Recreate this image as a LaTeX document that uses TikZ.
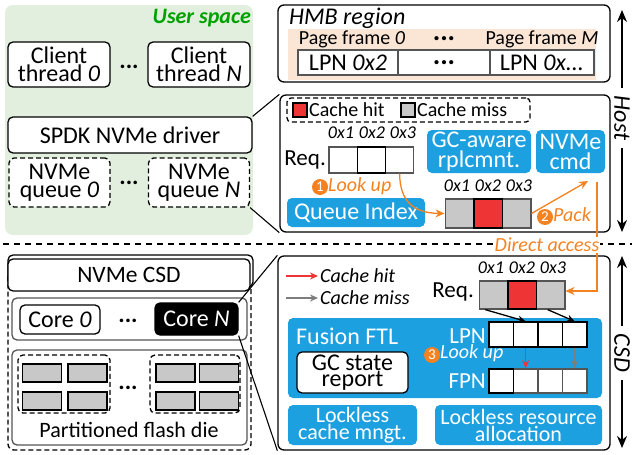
\documentclass[tikz,border=0pt]{standalone}
\usepackage{fontspec}
\setmainfont{Carlito}
\usetikzlibrary{arrows.meta,positioning,calc}

\definecolor{userbg}{RGB}{226,239,222}
\definecolor{usergreen}{RGB}{0,160,0}
\definecolor{hmbpeach}{RGB}{251,229,213}
\definecolor{ftlblue}{RGB}{29,160,224}
\definecolor{stepor}{RGB}{245,130,32}
\definecolor{hitred}{RGB}{238,52,52}
\definecolor{missgray}{RGB}{200,200,200}
\definecolor{arrowgray}{RGB}{125,125,125}
\definecolor{cellgray}{RGB}{85,85,85}

\newcommand\bigtxt{\fontsize{24}{18.5}\selectfont}
\newcommand\lltxt{\fontsize{22}{17}\selectfont}
\newcommand\midtxt{\fontsize{20}{18}\selectfont}
\newcommand\smalltxt{\fontsize{18}{18}\selectfont}
\newcommand\badgetxt{\fontsize{15}{15}\selectfont}

\begin{document}
\begin{tikzpicture}[
  x=1pt, y=-1pt,
  box/.style={draw, line width=1.3pt, rounded corners=5pt, fill=white, align=center, inner sep=0pt, font=\bigtxt},
  dbox/.style={box, dash pattern=on 5pt off 3pt},
  bluebox/.style={fill=ftlblue, rounded corners=5pt, text=white, align=center, inner sep=0pt, font=\bigtxt},
  cell/.style={draw=cellgray, line width=1.3pt, fill=white, inner sep=0pt, minimum width=28.3pt, minimum height=26pt},
  die/.style={draw, line width=1.3pt, fill=missgray, inner sep=0pt, minimum width=39pt, minimum height=18pt},
  idx/.style={font=\smalltxt\itshape, inner sep=0pt},
  txt/.style={font=\bigtxt, inner sep=0pt},
  badge/.style={circle, fill=stepor, text=white, inner sep=0pt, minimum size=16pt, font=\badgetxt},
  oarrow/.style={-{Stealth[length=9pt,width=8pt]}, stepor, line width=1.3pt},
  karrow/.style={-{Stealth[length=8pt,width=7pt]}, line width=1.3pt},
  zoomline/.style={line width=1.1pt},
  sidearrow/.style={{Stealth[length=12pt,width=10pt]}-{Stealth[length=12pt,width=10pt]}, line width=1.3pt},
  dots/.style={font=\bigtxt\bfseries, anchor=base, inner sep=0pt}
]
\useasboundingbox (0,0) rectangle (632,455);

% user space
\node[fill=userbg, rounded corners=8pt, minimum width=248pt, minimum height=230pt, inner sep=0pt] (user) at (129,120) {};
\node[text=usergreen, anchor=east, inner sep=0pt, font=\fontsize{22}{18}\selectfont\bfseries\itshape] (userlbl) at (251,18) {User space};
\node[box, minimum width=102pt, minimum height=45pt] (client0) at (59,64.5) {Client\\thread \textit{0}};
\node[box, minimum width=102pt, minimum height=45pt] (clientN) at (199,64.5) {Client\\thread \textit{N}};
\node[dots] (cdots) at (129,68) {...};
\node[box, minimum width=244pt, minimum height=36pt] (driver) at (130,135) {SPDK NVMe driver};
\node[dbox, minimum width=101pt, minimum height=49pt] (queue0) at (59.5,182.5) {NVMe\\queue \textit{0}};
\node[dbox, minimum width=101pt, minimum height=49pt] (queueN) at (199,182.5) {NVMe\\queue \textit{N}};
\node[dots] (qdots) at (129,184) {...};

% HMB region
\node[box, rounded corners=6pt, minimum width=332pt, minimum height=77pt] (hmb) at (444,43.5) {};
\node[fill=hmbpeach, minimum width=308pt, minimum height=51pt, inner sep=0pt] (band) at (442,54.5) {};
\node[font=\bigtxt\itshape, anchor=west, inner sep=0pt] (hmblbl) at (289,18) {HMB region};
\node[font=\midtxt, inner sep=0pt] (pf0) at (352,39) {Page frame \textit{0}};
\node[dots, font=\fontsize{28}{28}\selectfont\bfseries] (pfdots) at (444,40) {...};
\node[font=\midtxt, inner sep=0pt] (pfM) at (542,39) {Page frame \textit{M}};
\node[cell, minimum width=100pt, minimum height=25pt, font=\bigtxt] (slot0) at (348,62.5) {LPN \textit{0x2}};
\node[cell, minimum width=92pt, minimum height=25pt] (slot1) at (444,62.5) {};
\node[dots, font=\fontsize{28}{28}\selectfont\bfseries] (slotdots) at (444,64) {...};
\node[cell, minimum width=104pt, minimum height=25pt, font=\bigtxt] (slotM) at (542,62.5) {LPN \textit{0x...}};

% host zoom
\node[box, rounded corners=6pt, minimum width=330pt, minimum height=137pt] (host) at (445,163.5) {};
\draw[zoomline] (driver.north east) -- (host.north west);
\draw[zoomline] (queueN.south east) -- (host.south west);
\node[dbox, rounded corners=4pt, minimum width=243pt, minimum height=24pt] (hlegend) at (408.5,110) {};
\node[draw, line width=1.3pt, fill=hitred, minimum size=14pt, inner sep=0pt] (hitkey) at (300,110) {};
\node[font=\midtxt, anchor=west, inner sep=0pt] (hitlbl) at (309,110) {Cache hit};
\node[draw, line width=1.3pt, fill=missgray, minimum size=14pt, inner sep=0pt] (misskey) at (408,110) {};
\node[font=\midtxt, anchor=west, inner sep=0pt] (misslbl) at (417,110) {Cache miss};

\node[cell] (hq1) at (343,160) {};
\node[cell] (hq3) at (399.6,160) {};
\node[cell, draw=black] (hq2) at (371.3,160) {};
\node[txt, anchor=east, font=\fontsize{23}{18}\selectfont] (hreq) at (326,160) {Req.};
\node[idx] (hq1l) at (341,133) {0x1};
\node[idx] (hq2l) at (372,133) {0x2};
\node[idx] (hq3l) at (403,133) {0x3};

\node[bluebox, minimum width=104pt, minimum height=43pt, font=\fontsize{24}{20}\selectfont] (gcaware) at (479,151.5) {GC-aware\\rplcmnt.};
\node[bluebox, minimum width=69pt, minimum height=43pt, font=\fontsize{24}{20}\selectfont] (nvmecmd) at (570.5,151.5) {NVMe\\cmd};
\node[bluebox, minimum width=138pt, minimum height=29pt] (queueidx) at (356,212.5) {Queue Index};

\node[cell, fill=missgray, minimum height=29pt] (hc1) at (459.3,213.5) {};
\node[cell, fill=missgray, minimum height=29pt] (hc3) at (516.7,213.5) {};
\node[cell, fill=hitred, draw=black, minimum height=29pt] (hc2) at (488,213.5) {};
\node[idx] (hc1l) at (457,186) {0x1};
\node[idx] (hc2l) at (488,186) {0x2};
\node[idx] (hc3l) at (519,186) {0x3};

\node[badge] (step1) at (320,187) {1};
\node[font=\midtxt\itshape, text=stepor, anchor=west, inner sep=0pt] (step1lbl) at (328,186) {Look up};
\draw[oarrow] (hq3.south) .. controls (400,202) and (414,213) .. (hc1.west);
\coordinate (packtip) at (588,181);
\draw[oarrow] (hc3.east) -- (packtip);
\node[badge] (step2) at (545,217) {2};
\node[font=\midtxt\itshape, text=stepor, anchor=west, inner sep=0pt] (step2lbl) at (553,215) {Pack};

% host / csd divider
\draw[line width=1.5pt, dash pattern=on 6pt off 5pt] (3,244) -- (632,244);

% NVMe CSD
\node[dbox, fill=none, rounded corners=6pt, minimum width=243pt, minimum height=180pt] (csdchip) at (129.5,360) {};
\node[box, minimum width=245pt, minimum height=32pt] (csdback) at (130.5,271) {};
\node[box, minimum width=242pt, minimum height=32pt, font=\fontsize{23.5}{18}\selectfont] (csdname) at (129,275) {NVMe CSD};
\node[box, draw=cellgray, minimum width=235pt, minimum height=42pt] (cores) at (129.5,319) {};
\node[box, minimum width=80pt, minimum height=29pt] (core0) at (60,319.5) {Core \textit{0}};
\node[box, fill=black, text=white, minimum width=83pt, minimum height=32pt] (coreN) at (196.5,319) {Core \textit{N}};
\node[dots] (coredots) at (128,322) {...};
\node[box, draw=cellgray, minimum width=235pt, minimum height=95pt] (flash) at (129.5,397.5) {};
\node[dbox, minimum width=92pt, minimum height=58pt] (part0) at (64,384) {};
\node[dbox, minimum width=90pt, minimum height=58pt] (partN) at (195,384) {};
\foreach \x/\y [count=\i] in {42/373, 87.5/373, 42/401, 87.5/401, 175.5/373, 219/373, 175.5/401, 219/401}
  \node[die] (die\i) at (\x,\y) {};
\node[dots] (diedots) at (128,389) {...};
\node[txt, font=\lltxt] (flashlbl) at (129,430) {Partitioned flash die};

% csd zoom
\node[box, rounded corners=6pt, minimum width=332pt, minimum height=194pt] (csd) at (444,353) {};
\draw[zoomline] (coreN.north east) -- (csd.north west);
\draw[zoomline] (coreN.south east) -- (csd.south west);
\coordinate (hitfrom) at (286,276);
\coordinate (hitto) at (318,276);
\coordinate (missfrom) at (286,298);
\coordinate (missto) at (318,298);
\draw[karrow, hitred] (hitfrom) -- (hitto);
\draw[karrow, arrowgray] (missfrom) -- (missto);
\node[font=\midtxt\itshape, anchor=west, inner sep=0pt] (hitlbl2) at (320,276) {Cache hit};
\node[font=\midtxt\itshape, anchor=west, inner sep=0pt] (misslbl2) at (320,298) {Cache miss};

\node[cell, fill=missgray, minimum height=28pt] (rc1) at (493.3,295) {};
\node[cell, fill=missgray, minimum height=28pt] (rc3) at (550.7,295) {};
\node[cell, fill=hitred, draw=black, minimum height=28pt] (rc2) at (522,295) {};
\node[txt, anchor=east, font=\fontsize{23}{18}\selectfont] (creq) at (474,292) {Req.};
\node[idx] (rc1l) at (491,268) {0x1};
\node[idx] (rc2l) at (522,268) {0x2};
\node[idx] (rc3l) at (553,268) {0x3};

\node[bluebox, minimum width=314pt, minimum height=80pt] (ftl) at (445,358) {};
\node[txt, text=white, anchor=west] (ftllbl) at (296,336) {Fusion FTL};
\node[box, minimum width=111pt, minimum height=41pt, font=\fontsize{24}{15.5}\selectfont] (gcstate) at (352.5,372.5) {GC state\\report};
\foreach \i/\x in {1/501.25, 2/525.75, 3/550.25, 4/574.75} {
  \node[cell, draw=black, minimum width=24.5pt, minimum height=25pt] (lpn\i) at (\x,334.5) {};
  \node[cell, minimum width=24.5pt, minimum height=24pt] (fpn\i) at (\x,381) {};
}
\node[cell, draw=black, minimum width=24.5pt, minimum height=24pt] (fpn1) at (501.25,381) {};
\node[txt, text=white, anchor=east, font=\fontsize{23}{18}\selectfont] (lpnlbl) at (486,336) {LPN};
\node[txt, text=white, anchor=east, font=\fontsize{23}{18}\selectfont] (fpnlbl) at (486,381) {FPN};
\node[badge] (step3) at (432,355) {3};
\node[font=\midtxt\itshape, text=white, anchor=west, inner sep=0pt] (step3lbl) at (440,353) {Look up};
\draw[karrow, hitred] (lpn2.south) -- (fpn2.north);
\draw[karrow, arrowgray] (lpn4.south) -- (fpn4.north);
\draw[karrow] ([xshift=-8pt]rc1.south) -- (lpn2.north);
\draw[karrow] ([xshift=-3pt]rc3.south) -- (lpn4.north);

\node[bluebox, minimum width=129pt, minimum height=40pt, font=\lltxt] (lockcache) at (352.5,425) {Lockless\\cache mngt.};
\node[bluebox, minimum width=167pt, minimum height=40pt, font=\lltxt] (lockres) at (518.5,425) {Lockless resource\\allocation};

% direct access
\coordinate (dastart) at (597,182);
\draw[oarrow] (dastart) |- ([yshift=4pt]rc3.east);
\node[fill=white, font=\midtxt\itshape, text=stepor, inner sep=1pt] (dalbl) at (547,245) {Direct access};

% side arrows
\coordinate (hosttop) at (622,10);
\coordinate (hostbot) at (622,232);
\coordinate (csdtop) at (622,256);
\coordinate (csdbot) at (622,448);
\draw[sidearrow] (hosttop) -- (hostbot);
\draw[sidearrow] (csdtop) -- (csdbot);
\node[fill=white, rotate=-90, font=\bigtxt\itshape, inner xsep=8pt, inner ysep=2pt] (hostlbl) at (622,118) {Host};
\node[fill=white, rotate=-90, font=\bigtxt\itshape, inner xsep=8pt, inner ysep=2pt] (csdlbl) at (622,353) {CSD};
\end{tikzpicture}
\end{document}
